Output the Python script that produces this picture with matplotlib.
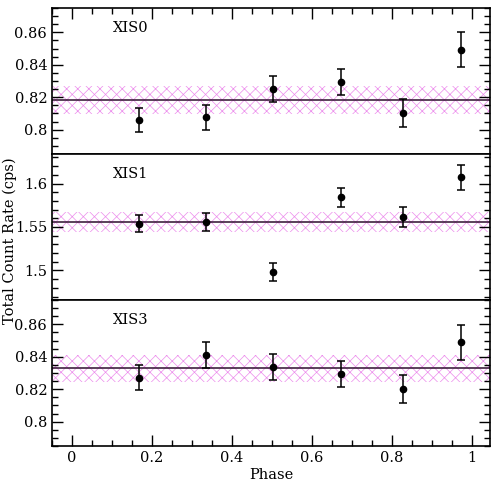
import matplotlib
matplotlib.use("Agg")
import matplotlib.pyplot as plt
from matplotlib.ticker import MultipleLocator, FixedLocator

plt.rcParams["font.family"] = ["DejaVu Serif"]
plt.rcParams["hatch.linewidth"] = 0.5

phase = [0.167, 0.336, 0.502, 0.672, 0.828, 0.972]

detectors = ["XIS0", "XIS1", "XIS3"]
rates = [
    [0.8062, 0.8076, 0.8251, 0.8294, 0.8103, 0.8493],
    [1.5538, 1.5558, 1.4980, 1.5843, 1.5616, 1.6074],
    [0.8271, 0.8411, 0.8335, 0.8294, 0.8199, 0.8489],
]
errors = [
    [0.0074, 0.0077, 0.0080, 0.0080, 0.0086, 0.0106],
    [0.0100, 0.0108, 0.0105, 0.0111, 0.0118, 0.0143],
    [0.0076, 0.0080, 0.0080, 0.0080, 0.0086, 0.0106],
]
mean_rate = [0.8185, 1.5554, 0.8329]
mean_err = [0.0086, 0.0114, 0.0085]

ylims = [(0.785, 0.875), (1.466, 1.634), (0.785, 0.875)]
major_ticks = [[0.8, 0.82, 0.84, 0.86], [1.5, 1.55, 1.6], [0.8, 0.82, 0.84, 0.86]]
tick_labels = [["0.8", "0.82", "0.84", "0.86"], ["1.5", "1.55", "1.6"],
               ["0.8", "0.82", "0.84", "0.86"]]
minor_step = [0.005, 0.01, 0.005]

fig = plt.figure(figsize=(4.96, 4.82), dpi=100)
left, width = 0.105, 0.883
bottom, height = 0.0747, 0.3029

xlim = (-0.05, 1.045)
for i in range(3):
    ax = fig.add_axes([left, bottom + (2 - i) * height, width, height])
    ax.set_xlim(*xlim)
    ax.set_ylim(*ylims[i])

    ax.fill_between(xlim, mean_rate[i] - mean_err[i], mean_rate[i] + mean_err[i],
                    facecolor="none", edgecolor="#ec8cec", hatch="xxx",
                    linewidth=0, zorder=1)
    ax.axhline(mean_rate[i], color="#402040", lw=1.2, zorder=2)
    ax.errorbar(phase, rates[i], yerr=errors[i], fmt="o", color="black",
                ms=4.5, elinewidth=1.1, capsize=3, capthick=1.1, zorder=3)

    ax.text(0.14, 0.86, detectors[i], transform=ax.transAxes, fontsize=10.5,
            va="center", ha="left")

    ax.yaxis.set_major_locator(FixedLocator(major_ticks[i]))
    ax.set_yticklabels(tick_labels[i])
    ax.yaxis.set_minor_locator(MultipleLocator(minor_step[i]))
    ax.xaxis.set_major_locator(MultipleLocator(0.2))
    ax.xaxis.set_minor_locator(MultipleLocator(0.05))
    ax.tick_params(which="both", direction="in", left=True, right=True,
                   top=(i == 0), bottom=(i == 2), labelsize=10.5, width=1)
    ax.tick_params(which="major", length=8)
    ax.tick_params(which="minor", length=4)
    for s in ax.spines.values():
        s.set_linewidth(1.2)
    if i == 2:
        ax.set_xticks([0, 0.2, 0.4, 0.6, 0.8, 1.0])
        ax.set_xticklabels(["0", "0.2", "0.4", "0.6", "0.8", "1"])
        ax.set_xlabel("Phase", fontsize=10.5, labelpad=2)
    else:
        ax.tick_params(labelbottom=False)

fig.text(0.02, 0.5, "Total Count Rate (cps)", rotation=90, va="center",
         ha="center", fontsize=10.5)

fig.savefig("out.png", dpi=100)
